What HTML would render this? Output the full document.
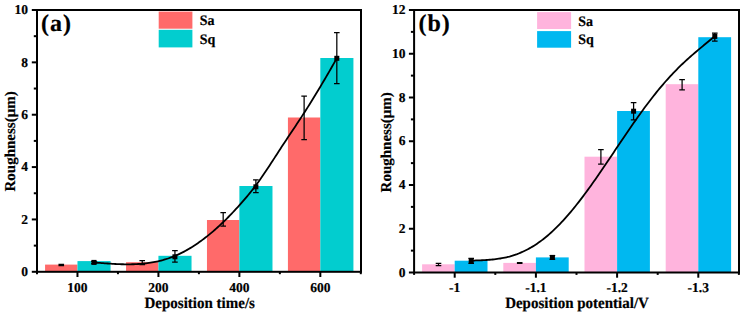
<!DOCTYPE html>
<html><head><meta charset="utf-8"><style>
html,body{margin:0;padding:0;background:#fff;}
body{width:748px;height:316px;overflow:hidden;}
svg{display:block;}
text{font-family:"Liberation Serif",serif;font-weight:bold;fill:#000;text-rendering:geometricPrecision;stroke:#000;stroke-width:0.2px;}
.t{font-size:13.5px;}
.tag{font-size:24px;letter-spacing:1px;}
.lg{font-size:14px;}
.ax{font-size:15px;}
</style></head><body>
<svg width="748" height="316" viewBox="0 0 748 316">
<rect x="45.07" y="264.60" width="32.40" height="7.20" fill="#FF6A6A"/>
<rect x="77.47" y="261.10" width="33.10" height="10.70" fill="#02CDCF"/>
<rect x="126.03" y="262.20" width="32.40" height="9.60" fill="#FF6A6A"/>
<rect x="158.43" y="255.80" width="33.10" height="16.00" fill="#02CDCF"/>
<rect x="206.97" y="220.00" width="32.40" height="51.80" fill="#FF6A6A"/>
<rect x="239.38" y="186.00" width="33.10" height="85.80" fill="#02CDCF"/>
<rect x="287.93" y="117.50" width="32.40" height="154.30" fill="#FF6A6A"/>
<rect x="320.32" y="58.00" width="33.10" height="213.80" fill="#02CDCF"/>
<path d="M58.47,264.30H64.07M61.27,264.30V265.50M58.47,265.50H64.07" stroke="#000" stroke-width="1.25" fill="none"/>
<path d="M139.43,260.50H145.03M142.23,260.50V264.50M139.43,264.50H145.03" stroke="#000" stroke-width="1.25" fill="none"/>
<path d="M220.38,212.70H225.98M223.18,212.70V226.20M220.38,226.20H225.98" stroke="#000" stroke-width="1.25" fill="none"/>
<path d="M301.32,96.10H306.93M304.12,96.10V139.60M301.32,139.60H306.93" stroke="#000" stroke-width="1.25" fill="none"/>
<path d="M91.17,261.30H96.77M93.97,261.30V263.70M91.17,263.70H96.77" stroke="#000" stroke-width="1.25" fill="none"/>
<path d="M172.12,250.70H177.73M174.93,250.70V262.10M172.12,262.10H177.73" stroke="#000" stroke-width="1.25" fill="none"/>
<path d="M253.07,179.90H258.68M255.88,179.90V192.60M253.07,192.60H258.68" stroke="#000" stroke-width="1.25" fill="none"/>
<path d="M334.02,32.50H339.62M336.82,32.50V83.50M334.02,83.50H339.62" stroke="#000" stroke-width="1.25" fill="none"/>
<path d="M93.97,262.49 L95.50,262.61 L97.03,262.73 L98.56,262.84 L100.08,262.96 L101.61,263.08 L103.14,263.19 L104.67,263.31 L106.19,263.42 L107.72,263.52 L109.25,263.63 L110.78,263.72 L112.30,263.82 L113.83,263.90 L115.36,263.98 L116.89,264.06 L118.41,264.12 L119.94,264.18 L121.47,264.23 L122.99,264.27 L124.52,264.30 L126.05,264.31 L127.58,264.32 L129.10,264.32 L130.63,264.30 L132.16,264.27 L133.69,264.23 L135.21,264.17 L136.74,264.10 L138.27,264.02 L139.80,263.92 L141.32,263.80 L142.85,263.66 L144.38,263.51 L145.91,263.34 L147.43,263.15 L148.96,262.94 L150.49,262.72 L152.01,262.47 L153.54,262.20 L155.07,261.91 L156.60,261.60 L158.12,261.26 L159.65,260.90 L161.18,260.52 L162.71,260.12 L164.23,259.68 L165.76,259.23 L167.29,258.74 L168.82,258.23 L170.34,257.70 L171.87,257.13 L173.40,256.54 L174.93,255.92 L176.45,255.26 L177.98,254.58 L179.51,253.88 L181.03,253.14 L182.56,252.37 L184.09,251.58 L185.62,250.75 L187.14,249.90 L188.67,249.02 L190.20,248.12 L191.73,247.18 L193.25,246.22 L194.78,245.23 L196.31,244.22 L197.84,243.18 L199.36,242.11 L200.89,241.01 L202.42,239.89 L203.94,238.74 L205.47,237.57 L207.00,236.37 L208.53,235.15 L210.05,233.90 L211.58,232.63 L213.11,231.33 L214.64,230.00 L216.16,228.65 L217.69,227.28 L219.22,225.88 L220.75,224.46 L222.27,223.02 L223.80,221.55 L225.33,220.06 L226.86,218.54 L228.38,217.00 L229.91,215.44 L231.44,213.86 L232.96,212.25 L234.49,210.62 L236.02,208.97 L237.55,207.30 L239.07,205.61 L240.60,203.89 L242.13,202.16 L243.66,200.40 L245.18,198.63 L246.71,196.83 L248.24,195.00 L249.77,193.15 L251.29,191.26 L252.82,189.33 L254.35,187.36 L255.88,185.34 L257.40,183.27 L258.93,181.16 L260.46,179.01 L261.98,176.82 L263.51,174.59 L265.04,172.33 L266.57,170.05 L268.09,167.75 L269.62,165.42 L271.15,163.08 L272.68,160.73 L274.20,158.37 L275.73,156.01 L277.26,153.65 L278.79,151.29 L280.31,148.94 L281.84,146.60 L283.37,144.28 L284.89,141.96 L286.42,139.66 L287.95,137.36 L289.48,135.07 L291.00,132.78 L292.53,130.49 L294.06,128.20 L295.59,125.90 L297.11,123.60 L298.64,121.29 L300.17,118.96 L301.70,116.63 L303.22,114.27 L304.75,111.90 L306.28,109.51 L307.81,107.11 L309.33,104.68 L310.86,102.24 L312.39,99.78 L313.91,97.30 L315.44,94.81 L316.97,92.30 L318.50,89.77 L320.02,87.22 L321.55,84.66 L323.08,82.08 L324.61,79.49 L326.13,76.87 L327.66,74.25 L329.19,71.60 L330.72,68.94 L332.24,66.27 L333.77,63.58 L335.30,60.87 L336.82,58.15" stroke="#000" stroke-width="1.8" fill="none"/>
<rect x="91.47" y="259.90" width="5" height="5" fill="#000"/>
<rect x="172.43" y="254.30" width="5" height="5" fill="#000"/>
<rect x="253.38" y="184.30" width="5" height="5" fill="#000"/>
<rect x="334.32" y="55.80" width="5" height="5" fill="#000"/>
<rect x="37.00" y="10.00" width="324.00" height="261.80" fill="none" stroke="#000" stroke-width="2"/>
<line x1="31.80" y1="271.80" x2="37.00" y2="271.80" stroke="#000" stroke-width="2"/>
<text x="28.00" y="276.00" text-anchor="end" class="t">0</text>
<line x1="33.80" y1="245.62" x2="37.00" y2="245.62" stroke="#000" stroke-width="2"/>
<line x1="31.80" y1="219.44" x2="37.00" y2="219.44" stroke="#000" stroke-width="2"/>
<text x="28.00" y="223.64" text-anchor="end" class="t">2</text>
<line x1="33.80" y1="193.26" x2="37.00" y2="193.26" stroke="#000" stroke-width="2"/>
<line x1="31.80" y1="167.08" x2="37.00" y2="167.08" stroke="#000" stroke-width="2"/>
<text x="28.00" y="171.28" text-anchor="end" class="t">4</text>
<line x1="33.80" y1="140.90" x2="37.00" y2="140.90" stroke="#000" stroke-width="2"/>
<line x1="31.80" y1="114.72" x2="37.00" y2="114.72" stroke="#000" stroke-width="2"/>
<text x="28.00" y="118.92" text-anchor="end" class="t">6</text>
<line x1="33.80" y1="88.54" x2="37.00" y2="88.54" stroke="#000" stroke-width="2"/>
<line x1="31.80" y1="62.36" x2="37.00" y2="62.36" stroke="#000" stroke-width="2"/>
<text x="28.00" y="66.56" text-anchor="end" class="t">8</text>
<line x1="33.80" y1="36.18" x2="37.00" y2="36.18" stroke="#000" stroke-width="2"/>
<line x1="31.80" y1="10.00" x2="37.00" y2="10.00" stroke="#000" stroke-width="2"/>
<text x="28.00" y="14.20" text-anchor="end" class="t">10</text>
<line x1="77.47" y1="271.80" x2="77.47" y2="277.00" stroke="#000" stroke-width="2"/>
<text x="77.47" y="291.50" text-anchor="middle" class="t">100</text>
<line x1="158.43" y1="271.80" x2="158.43" y2="277.00" stroke="#000" stroke-width="2"/>
<text x="158.43" y="291.50" text-anchor="middle" class="t">200</text>
<line x1="239.38" y1="271.80" x2="239.38" y2="277.00" stroke="#000" stroke-width="2"/>
<text x="239.38" y="291.50" text-anchor="middle" class="t">400</text>
<line x1="320.32" y1="271.80" x2="320.32" y2="277.00" stroke="#000" stroke-width="2"/>
<text x="320.32" y="291.50" text-anchor="middle" class="t">600</text>
<line x1="37.00" y1="271.80" x2="37.00" y2="274.20" stroke="#000" stroke-width="2"/>
<line x1="117.95" y1="271.80" x2="117.95" y2="274.20" stroke="#000" stroke-width="2"/>
<line x1="198.90" y1="271.80" x2="198.90" y2="274.20" stroke="#000" stroke-width="2"/>
<line x1="279.85" y1="271.80" x2="279.85" y2="274.20" stroke="#000" stroke-width="2"/>
<line x1="360.80" y1="271.80" x2="360.80" y2="274.20" stroke="#000" stroke-width="2"/>
<text x="41.00" y="31.10" class="tag">(a)</text>
<rect x="158.7" y="11.6" width="33.70000000000002" height="17.1" fill="#FF6A6A"/>
<rect x="158.7" y="29.8" width="33.70000000000002" height="17.599999999999998" fill="#02CDCF"/>
<text transform="translate(199.80,25.30) scale(1,1.04)" class="lg">Sa</text>
<text transform="translate(199.80,44.00) scale(1,1.04)" class="lg">Sq</text>
<text transform="translate(199.70,308.00) scale(1,1.04)" text-anchor="middle" class="ax">Deposition time/s</text>
<text transform="translate(15.2,141.4) rotate(-90)" text-anchor="middle" class="ax">Roughness(μm)</text>
<rect x="422.10" y="264.30" width="32.60" height="8.20" fill="#FFB4DD"/>
<rect x="454.70" y="260.70" width="32.80" height="11.80" fill="#00B8F0"/>
<rect x="503.30" y="262.90" width="32.60" height="9.60" fill="#FFB4DD"/>
<rect x="535.90" y="257.40" width="32.80" height="15.10" fill="#00B8F0"/>
<rect x="584.50" y="156.70" width="32.60" height="115.80" fill="#FFB4DD"/>
<rect x="617.10" y="111.00" width="32.80" height="161.50" fill="#00B8F0"/>
<rect x="665.70" y="84.20" width="32.60" height="188.30" fill="#FFB4DD"/>
<rect x="698.30" y="37.20" width="32.80" height="235.30" fill="#00B8F0"/>
<path d="M435.70,263.30H441.30M438.50,263.30V265.50M435.70,265.50H441.30" stroke="#000" stroke-width="1.25" fill="none"/>
<path d="M516.90,262.50H522.50M519.70,262.50V263.30M516.90,263.30H522.50" stroke="#000" stroke-width="1.25" fill="none"/>
<path d="M598.10,149.50H603.70M600.90,149.50V164.00M598.10,164.00H603.70" stroke="#000" stroke-width="1.25" fill="none"/>
<path d="M679.30,79.70H684.90M682.10,79.70V89.90M679.30,89.90H684.90" stroke="#000" stroke-width="1.25" fill="none"/>
<path d="M468.40,258.30H474.00M471.20,258.30V263.40M468.40,263.40H474.00" stroke="#000" stroke-width="1.25" fill="none"/>
<path d="M549.60,255.60H555.20M552.40,255.60V259.30M549.60,259.30H555.20" stroke="#000" stroke-width="1.25" fill="none"/>
<path d="M630.80,102.60H636.40M633.60,102.60V119.80M630.80,119.80H636.40" stroke="#000" stroke-width="1.25" fill="none"/>
<path d="M712.00,33.20H717.60M714.80,33.20V41.00M712.00,41.00H717.60" stroke="#000" stroke-width="1.25" fill="none"/>
<path d="M471.20,260.66 L472.73,260.59 L474.26,260.53 L475.80,260.47 L477.33,260.41 L478.86,260.36 L480.39,260.29 L481.92,260.23 L483.46,260.15 L484.99,260.07 L486.52,259.98 L488.05,259.88 L489.58,259.76 L491.12,259.63 L492.65,259.49 L494.18,259.33 L495.71,259.15 L497.25,258.95 L498.78,258.73 L500.31,258.49 L501.84,258.22 L503.37,257.93 L504.91,257.61 L506.44,257.27 L507.97,256.90 L509.50,256.51 L511.03,256.08 L512.57,255.62 L514.10,255.13 L515.63,254.61 L517.16,254.06 L518.69,253.47 L520.23,252.85 L521.76,252.20 L523.29,251.51 L524.82,250.78 L526.35,250.02 L527.89,249.22 L529.42,248.39 L530.95,247.52 L532.48,246.61 L534.02,245.66 L535.55,244.68 L537.08,243.66 L538.61,242.60 L540.14,241.50 L541.68,240.36 L543.21,239.19 L544.74,237.98 L546.27,236.73 L547.80,235.44 L549.34,234.12 L550.87,232.76 L552.40,231.36 L553.93,229.92 L555.46,228.45 L557.00,226.94 L558.53,225.40 L560.06,223.82 L561.59,222.21 L563.12,220.56 L564.66,218.88 L566.19,217.17 L567.72,215.42 L569.25,213.64 L570.78,211.84 L572.32,210.00 L573.85,208.13 L575.38,206.24 L576.91,204.31 L578.45,202.36 L579.98,200.39 L581.51,198.39 L583.04,196.36 L584.57,194.31 L586.11,192.24 L587.64,190.15 L589.17,188.04 L590.70,185.91 L592.23,183.76 L593.77,181.59 L595.30,179.41 L596.83,177.22 L598.36,175.01 L599.89,172.78 L601.43,170.55 L602.96,168.30 L604.49,166.05 L606.02,163.79 L607.55,161.52 L609.09,159.25 L610.62,156.97 L612.15,154.69 L613.68,152.41 L615.22,150.12 L616.75,147.84 L618.28,145.56 L619.81,143.28 L621.34,141.00 L622.88,138.73 L624.41,136.47 L625.94,134.21 L627.47,131.96 L629.00,129.72 L630.54,127.49 L632.07,125.28 L633.60,123.07 L635.13,120.88 L636.66,118.71 L638.20,116.55 L639.73,114.41 L641.26,112.28 L642.79,110.17 L644.32,108.09 L645.86,106.02 L647.39,103.97 L648.92,101.95 L650.45,99.94 L651.98,97.97 L653.52,96.01 L655.05,94.08 L656.58,92.17 L658.11,90.29 L659.65,88.43 L661.18,86.60 L662.71,84.80 L664.24,83.02 L665.77,81.27 L667.31,79.55 L668.84,77.85 L670.37,76.18 L671.90,74.53 L673.43,72.92 L674.97,71.33 L676.50,69.76 L678.03,68.22 L679.56,66.70 L681.09,65.21 L682.63,63.74 L684.16,62.30 L685.69,60.88 L687.22,59.48 L688.75,58.09 L690.29,56.73 L691.82,55.39 L693.35,54.06 L694.88,52.74 L696.42,51.44 L697.95,50.15 L699.48,48.87 L701.01,47.60 L702.54,46.33 L704.08,45.06 L705.61,43.80 L707.14,42.53 L708.67,41.27 L710.20,39.99 L711.74,38.70 L713.27,37.40 L714.80,36.09" stroke="#000" stroke-width="1.8" fill="none"/>
<rect x="468.70" y="258.40" width="5" height="5" fill="#000"/>
<rect x="549.90" y="254.90" width="5" height="5" fill="#000"/>
<rect x="631.10" y="108.70" width="5" height="5" fill="#000"/>
<rect x="712.30" y="33.90" width="5" height="5" fill="#000"/>
<rect x="414.10" y="10.00" width="324.90" height="262.50" fill="none" stroke="#000" stroke-width="2"/>
<line x1="408.90" y1="272.50" x2="414.10" y2="272.50" stroke="#000" stroke-width="2"/>
<text x="405.60" y="276.70" text-anchor="end" class="t">0</text>
<line x1="410.90" y1="250.62" x2="414.10" y2="250.62" stroke="#000" stroke-width="2"/>
<line x1="408.90" y1="228.75" x2="414.10" y2="228.75" stroke="#000" stroke-width="2"/>
<text x="405.60" y="232.95" text-anchor="end" class="t">2</text>
<line x1="410.90" y1="206.88" x2="414.10" y2="206.88" stroke="#000" stroke-width="2"/>
<line x1="408.90" y1="185.00" x2="414.10" y2="185.00" stroke="#000" stroke-width="2"/>
<text x="405.60" y="189.20" text-anchor="end" class="t">4</text>
<line x1="410.90" y1="163.12" x2="414.10" y2="163.12" stroke="#000" stroke-width="2"/>
<line x1="408.90" y1="141.25" x2="414.10" y2="141.25" stroke="#000" stroke-width="2"/>
<text x="405.60" y="145.45" text-anchor="end" class="t">6</text>
<line x1="410.90" y1="119.38" x2="414.10" y2="119.38" stroke="#000" stroke-width="2"/>
<line x1="408.90" y1="97.50" x2="414.10" y2="97.50" stroke="#000" stroke-width="2"/>
<text x="405.60" y="101.70" text-anchor="end" class="t">8</text>
<line x1="410.90" y1="75.62" x2="414.10" y2="75.62" stroke="#000" stroke-width="2"/>
<line x1="408.90" y1="53.75" x2="414.10" y2="53.75" stroke="#000" stroke-width="2"/>
<text x="405.60" y="57.95" text-anchor="end" class="t">10</text>
<line x1="410.90" y1="31.88" x2="414.10" y2="31.88" stroke="#000" stroke-width="2"/>
<line x1="408.90" y1="10.00" x2="414.10" y2="10.00" stroke="#000" stroke-width="2"/>
<text x="405.60" y="14.20" text-anchor="end" class="t">12</text>
<line x1="454.70" y1="272.50" x2="454.70" y2="277.70" stroke="#000" stroke-width="2"/>
<text x="454.70" y="291.50" text-anchor="middle" class="t">-1</text>
<line x1="535.90" y1="272.50" x2="535.90" y2="277.70" stroke="#000" stroke-width="2"/>
<text x="535.90" y="291.50" text-anchor="middle" class="t">-1.1</text>
<line x1="617.10" y1="272.50" x2="617.10" y2="277.70" stroke="#000" stroke-width="2"/>
<text x="617.10" y="291.50" text-anchor="middle" class="t">-1.2</text>
<line x1="698.30" y1="272.50" x2="698.30" y2="277.70" stroke="#000" stroke-width="2"/>
<text x="698.30" y="291.50" text-anchor="middle" class="t">-1.3</text>
<line x1="414.10" y1="272.50" x2="414.10" y2="274.90" stroke="#000" stroke-width="2"/>
<line x1="495.30" y1="272.50" x2="495.30" y2="274.90" stroke="#000" stroke-width="2"/>
<line x1="576.50" y1="272.50" x2="576.50" y2="274.90" stroke="#000" stroke-width="2"/>
<line x1="657.70" y1="272.50" x2="657.70" y2="274.90" stroke="#000" stroke-width="2"/>
<line x1="738.90" y1="272.50" x2="738.90" y2="274.90" stroke="#000" stroke-width="2"/>
<text x="418.40" y="30.50" class="tag">(b)</text>
<rect x="537.1" y="12.1" width="34.0" height="16.9" fill="#FFB4DD"/>
<rect x="537.1" y="31.1" width="34.0" height="16.6" fill="#00B8F0"/>
<text transform="translate(578.20,26.00) scale(1,1.04)" class="lg">Sa</text>
<text transform="translate(578.20,44.20) scale(1,1.04)" class="lg">Sq</text>
<text transform="translate(577.00,308.00) scale(1,1.04)" text-anchor="middle" class="ax">Deposition potential/V</text>
<text transform="translate(391.2,142.3) rotate(-90)" text-anchor="middle" class="ax">Roughness(μm)</text>
</svg>
</body></html>
